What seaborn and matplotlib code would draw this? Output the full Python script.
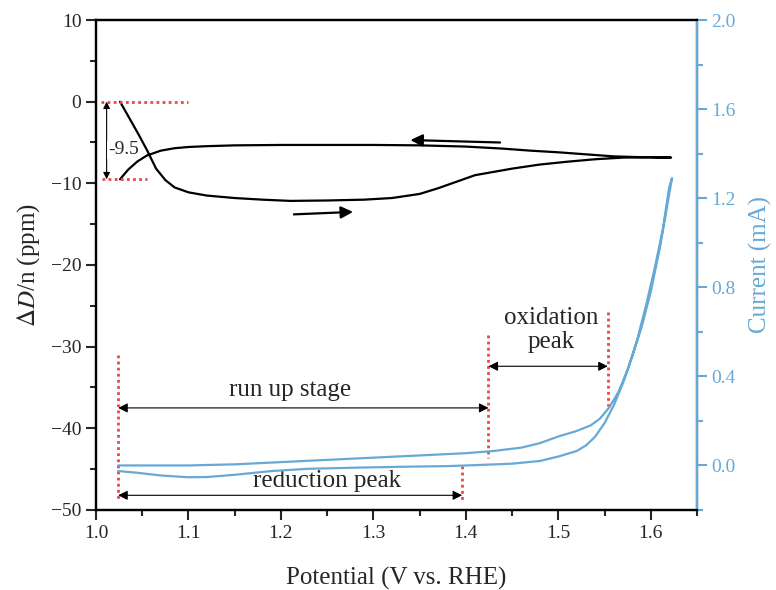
import numpy as np
import pandas as pd
import matplotlib
matplotlib.use("Agg")
import matplotlib.pyplot as plt
from matplotlib.ticker import MultipleLocator
import seaborn as sns

# ---- data ----
# Delta D / n (ppm) vs potential, forward (anodic) scan
d_fwd_x = [1.026, 1.035, 1.045, 1.055, 1.065, 1.075, 1.085, 1.10, 1.12, 1.15, 1.18, 1.21,
           1.25, 1.29, 1.32, 1.35, 1.37, 1.39, 1.41, 1.43, 1.45, 1.48, 1.51, 1.54, 1.57, 1.60, 1.622]
d_fwd_y = [0.0, -1.8, -3.8, -5.9, -8.2, -9.6, -10.5, -11.1, -11.5, -11.8, -12.0, -12.15,
           -12.1, -12.0, -11.8, -11.3, -10.6, -9.8, -9.0, -8.6, -8.2, -7.7, -7.35, -7.05, -6.85, -6.8, -6.85]
# reverse (cathodic) scan
d_rev_x = [1.622, 1.59, 1.56, 1.53, 1.50, 1.47, 1.44, 1.40, 1.35, 1.30, 1.25, 1.20, 1.15,
           1.12, 1.10, 1.085, 1.07, 1.055, 1.045, 1.035, 1.026]
d_rev_y = [-6.85, -6.8, -6.7, -6.45, -6.2, -6.0, -5.75, -5.5, -5.35, -5.3, -5.3, -5.3, -5.35,
           -5.45, -5.55, -5.7, -6.0, -6.6, -7.3, -8.3, -9.5]

# Current (mA) vs potential, forward scan
i_fwd_x = [1.024, 1.05, 1.10, 1.15, 1.20, 1.25, 1.30, 1.35, 1.40, 1.43, 1.46, 1.48, 1.50,
           1.52, 1.535, 1.545, 1.555, 1.565, 1.575, 1.585, 1.595, 1.605, 1.613, 1.62, 1.623]
i_fwd_y = [0.0, 0.0, 0.0, 0.005, 0.015, 0.025, 0.035, 0.045, 0.055, 0.065, 0.08, 0.10, 0.13,
           0.155, 0.18, 0.21, 0.26, 0.33, 0.43, 0.56, 0.72, 0.90, 1.06, 1.25, 1.29]
# reverse scan
i_rev_x = [1.623, 1.62, 1.61, 1.60, 1.59, 1.58, 1.57, 1.56, 1.55, 1.54, 1.53, 1.52, 1.50,
           1.48, 1.45, 1.42, 1.38, 1.33, 1.28, 1.23, 1.19, 1.15, 1.12, 1.10, 1.07, 1.045, 1.024]
i_rev_y = [1.29, 1.22, 0.98, 0.78, 0.62, 0.49, 0.37, 0.27, 0.19, 0.13, 0.09, 0.065, 0.04,
           0.02, 0.008, 0.003, -0.003, -0.006, -0.01, -0.015, -0.025, -0.042, -0.052, -0.053,
           -0.045, -0.033, -0.025]

x_ticks = [1.0, 1.1, 1.2, 1.3, 1.4, 1.5, 1.6]
y_left_ticks = [-50, -40, -30, -20, -10, 0, 10]
y_right_ticks = [0.0, 0.4, 0.8, 1.2, 1.6, 2.0]

# annotation markers
delta_label = "-9.5"
delta_top, delta_bottom = 0.0, -9.5
run_up = (1.024, 1.4245)
reduction = (1.024, 1.396)
oxidation = (1.4245, 1.5535)

# ---- style ----
sns.set_theme(style="ticks")
plt.rcParams["font.family"] = ["Liberation Serif", "DejaVu Serif"]
plt.rcParams["mathtext.fontset"] = "stix"

BLUE = "#67A9D5"
RED = "#E8474B"

fig = plt.figure(figsize=(7.76, 5.90), dpi=100)
ax = fig.add_axes([0.1237, 0.1356, 0.7745, 0.8305])
ax2 = ax.twinx()

df_d = pd.DataFrame({"x": d_fwd_x + d_rev_x, "y": d_fwd_y + d_rev_y})
df_i = pd.DataFrame({"x": i_fwd_x + i_rev_x, "y": i_fwd_y + i_rev_y})

sns.lineplot(data=df_d, x="x", y="y", sort=False, estimator=None, color="black",
             linewidth=1.6, ax=ax)
sns.lineplot(data=df_i, x="x", y="y", sort=False, estimator=None, color=BLUE,
             linewidth=1.6, ax=ax2)

ax.set_xlim(1.0, 1.65)
ax.set_ylim(-50, 10)
ax2.set_ylim(-0.2, 2.0)

ax.set_xticks(x_ticks)
ax.set_xticklabels([f"{v:.1f}" for v in x_ticks])
ax.set_yticks(y_left_ticks)
ax.xaxis.set_minor_locator(MultipleLocator(0.05))
ax.yaxis.set_minor_locator(MultipleLocator(5))
ax2.set_yticks(y_right_ticks)
ax2.set_yticklabels([f"{v:.1f}" for v in y_right_ticks])
ax2.yaxis.set_minor_locator(MultipleLocator(0.2))

for a in (ax, ax2):
    a.tick_params(which="major", direction="out", length=7, width=1.5, labelsize=14)
    a.tick_params(which="minor", direction="out", length=4, width=1.5)
    for s in a.spines.values():
        s.set_linewidth(1.6)
        s.set_color("black")
ax.tick_params(axis="y", which="both", right=False)
ax2.tick_params(axis="y", which="both", colors=BLUE, labelcolor=BLUE)
ax2.spines["right"].set_color(BLUE)

ax.set_xlabel("Potential (V vs. RHE)", fontsize=18, labelpad=18)
ax.set_ylabel(r"$\Delta\mathit{D}$/n (ppm)", fontsize=18, labelpad=6)
ax2.set_ylabel("Current (mA)", fontsize=18, color=BLUE, labelpad=9)

# ---- annotations on left axis ----
dot = dict(color=RED, linestyle=(0, (1.0, 1.2)), linewidth=2.0)
ax.plot([1.005, 1.099], [delta_top, delta_top], **dot)
ax.plot([1.007, 1.055], [delta_bottom, delta_bottom], **dot)
ax.annotate("", xy=(1.0115, delta_top), xytext=(1.0115, delta_bottom),
            arrowprops=dict(arrowstyle="<|-|>", color="black", lw=0.8,
                            mutation_scale=10, shrinkA=0, shrinkB=0))
ax.text(1.013, -5.9, delta_label, fontsize=14, ha="left", va="center",
        bbox=dict(facecolor="white", edgecolor="none", pad=0.5))

# scan direction arrows
ax.annotate("", xy=(1.34, -4.7), xytext=(1.437, -5.0),
            arrowprops=dict(arrowstyle="-|>", color="black", lw=1.6, mutation_scale=18,
                            shrinkA=0, shrinkB=0))
ax.annotate("", xy=(1.278, -13.5), xytext=(1.214, -13.8),
            arrowprops=dict(arrowstyle="-|>", color="black", lw=1.6, mutation_scale=18,
                            shrinkA=0, shrinkB=0))

# vertical red dotted guides
ax.plot([1.024, 1.024], [-31.0, -48.9], **dot)
ax.plot([1.4245, 1.4245], [-28.6, -43.6], **dot)
ax.plot([1.5535, 1.5535], [-25.7, -37.3], **dot)
ax.plot([1.396, 1.396], [-44.6, -48.8], **dot)

arw = dict(arrowstyle="<|-|>", color="black", lw=0.8, mutation_scale=14,
           shrinkA=0, shrinkB=0)
ax.annotate("", xy=(run_up[0], -37.5), xytext=(run_up[1], -37.5), arrowprops=arw)
ax.annotate("", xy=(reduction[0], -48.2), xytext=(reduction[1], -48.2), arrowprops=arw)
ax.annotate("", xy=(oxidation[0], -32.4), xytext=(oxidation[1], -32.4), arrowprops=arw)

ax.text(1.21, -35.3, "run up stage", fontsize=18, ha="center", va="center")
ax.text(1.25, -46.4, "reduction peak", fontsize=18, ha="center", va="center")
ax.text(1.492, -28.0, "oxidation\npeak", fontsize=18, ha="center", va="center",
        linespacing=1.1)

fig.savefig("out.png", dpi=100)
